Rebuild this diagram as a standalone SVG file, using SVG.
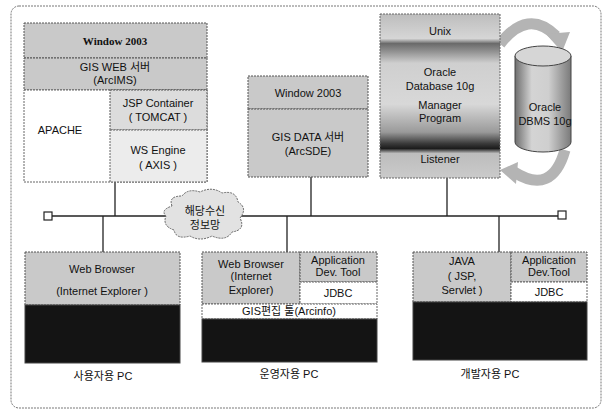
<svg xmlns="http://www.w3.org/2000/svg" width="606" height="418" viewBox="0 0 606 418">
<defs>
<style>
text{font-family:"Liberation Sans","Noto Sans CJK KR",sans-serif;font-size:11px;fill:#111;text-anchor:middle}
.serif{font-family:"Liberation Serif","Noto Sans CJK KR",serif;font-weight:bold}
.g{fill:#c9c9c9;stroke:#555;stroke-width:1;stroke-dasharray:2 1}
.gl{fill:#dcdcdc;stroke:#555;stroke-width:1;stroke-dasharray:2 1}
.w{fill:#ffffff;stroke:#666;stroke-width:1;stroke-dasharray:2 1}
.dk{fill:#141414;stroke:#444;stroke-width:1}
.ln{stroke:#222;stroke-width:1.3;fill:none}
.arr{fill:none;stroke:#b4b4b4;stroke-width:11}
.ah{fill:#b4b4b4}
</style>
<linearGradient id="ora" gradientUnits="userSpaceOnUse" x1="0" y1="14" x2="0" y2="178">
<stop offset="0" stop-color="#bdbdbd"/>
<stop offset="0.15" stop-color="#d6d6d6"/>
<stop offset="0.18" stop-color="#6a6a6a"/>
<stop offset="0.22" stop-color="#8a8a8a"/>
<stop offset="0.3" stop-color="#cfcfcf"/>
<stop offset="0.55" stop-color="#d8d8d8"/>
<stop offset="0.72" stop-color="#9a9a9a"/>
<stop offset="0.79" stop-color="#3a3a3a"/>
<stop offset="0.82" stop-color="#1c1c1c"/>
<stop offset="0.85" stop-color="#bdbdbd"/>
<stop offset="1" stop-color="#cacaca"/>
</linearGradient>
<linearGradient id="cyl" x1="0" y1="0" x2="1" y2="0">
<stop offset="0" stop-color="#6e6e6e"/>
<stop offset="0.3" stop-color="#d4d4d4"/>
<stop offset="0.6" stop-color="#cfcfcf"/>
<stop offset="1" stop-color="#7a7a7a"/>
</linearGradient>
</defs>

<rect x="11" y="6" width="590" height="402" rx="8" fill="#ffffff" stroke="#777" stroke-width="1" stroke-dasharray="2 1"/>

<g id="connectors">
<line class="ln" x1="52" y1="216" x2="558" y2="216"/>
<rect x="44" y="212" width="8" height="8" fill="#fff" stroke="#222" stroke-width="1.2"/>
<rect x="558" y="211" width="8" height="8" fill="#fff" stroke="#222" stroke-width="1.2"/>
<line class="ln" x1="115" y1="182" x2="115" y2="216"/>
<line class="ln" x1="311" y1="177" x2="311" y2="216"/>
<line class="ln" x1="447" y1="178" x2="447" y2="216"/>
<line class="ln" x1="103" y1="216" x2="103" y2="252"/>
<line class="ln" x1="287" y1="216" x2="287" y2="252"/>
<line class="ln" x1="499" y1="216" x2="499" y2="252"/>
<path class="arr" d="M500,44 Q528,8 556,36"/>
<polygon class="ah" points="546,34 570,32 562,52"/>
<path class="arr" d="M565,150 Q552,196 514,172"/>
<polygon class="ah" points="518,162 500,170 516,184"/>
</g>

<g id="cloud">
<path d="M172,206 Q168,196 182,196 Q188,188 200,192 Q212,186 222,193 Q236,190 238,202 Q248,208 240,218 Q246,230 232,232 Q226,242 212,236 Q200,242 190,236 Q176,240 174,230 Q162,226 166,216 Q160,210 172,206 Z" fill="#e2e2e2" stroke="#666" stroke-width="1" stroke-dasharray="2 1"/>
<text x="205" y="215" font-size="10">해당수신</text>
<text x="205" y="229" font-size="10">정보망</text>
</g>

<g id="web-server">
<rect class="g" x="24" y="23" width="183" height="35"/>
<text class="serif" x="115" y="45">Window 2003</text>
<rect class="g" x="24" y="58" width="183" height="32"/>
<text x="115" y="71">GIS WEB 서버</text>
<text x="115" y="84">(ArcIMS)</text>
<rect class="w" x="24" y="90" width="183" height="92"/>
<rect class="gl" x="110" y="90" width="97" height="40"/>
<rect fill="#ececec" stroke="#666" stroke-dasharray="2 1" x="110" y="130" width="97" height="52"/>
<text x="60" y="134">APACHE</text>
<text x="158" y="107">JSP Container</text>
<text x="158" y="121">( TOMCAT )</text>
<text x="158" y="154" font-size="12">WS Engine</text>
<text x="158" y="169" font-size="12">( AXIS )</text>
</g>

<g id="data-server">
<rect class="g" x="248" y="76" width="120" height="33"/>
<text x="308" y="97">Window 2003</text>
<rect class="g" x="248" y="109" width="120" height="68"/>
<text x="308" y="141">GIS DATA 서버</text>
<text x="308" y="155">(ArcSDE)</text>
</g>

<g id="oracle-server">
<rect x="380" y="14" width="120" height="164" fill="url(#ora)" stroke="#666" stroke-width="1" stroke-dasharray="2 1"/>
<text x="440" y="35">Unix</text>
<text x="440" y="76">Oracle</text>
<text x="440" y="90">Database 10g</text>
<text x="440" y="109">Manager</text>
<text x="440" y="122">Program</text>
<text x="440" y="163">Listener</text>
</g>

<g id="oracle-dbms">
<path d="M515,56 L515,142 A28,10 0 0 0 571,142 L571,56 Z" fill="url(#cyl)" stroke="#444" stroke-width="1"/>
<ellipse cx="543" cy="56" rx="28" ry="10" fill="#d6d6d6" stroke="#444" stroke-width="1"/>
<text x="545" y="111" font-size="12">Oracle</text>
<text x="545" y="125" font-size="12">DBMS 10g</text>
</g>

<g id="user-pc">
<rect class="g" x="25" y="252" width="155" height="53"/>
<text x="102" y="273">Web Browser</text>
<text x="102" y="295">(Internet Explorer )</text>
<rect class="dk" x="25" y="305" width="155" height="58"/>
<text x="103" y="380">사용자용 PC</text>
</g>

<g id="ops-pc">
<rect class="g" x="202" y="252" width="98" height="52"/>
<text x="251" y="268">Web Browser</text>
<text x="251" y="280">(Internet</text>
<text x="251" y="294">Explorer)</text>
<rect class="g" x="300" y="252" width="77" height="30"/>
<text x="338" y="264">Application</text>
<text x="338" y="276">Dev. Tool</text>
<rect class="w" x="300" y="282" width="77" height="22"/>
<text x="338" y="297">JDBC</text>
<rect class="w" x="202" y="304" width="175" height="15"/>
<text x="289" y="315">GIS편집 툴(Arcinfo)</text>
<rect class="dk" x="202" y="319" width="175" height="43"/>
<text x="289" y="378">운영자용 PC</text>
</g>

<g id="dev-pc">
<rect class="g" x="413" y="252" width="98" height="50"/>
<text x="462" y="265">JAVA</text>
<text x="462" y="280">( JSP,</text>
<text x="462" y="294">Servlet )</text>
<rect class="g" x="511" y="252" width="76" height="30"/>
<text x="549" y="264">Application</text>
<text x="549" y="276">Dev.Tool</text>
<rect class="w" x="511" y="282" width="76" height="20"/>
<text x="549" y="296">JDBC</text>
<rect class="dk" x="413" y="302" width="174" height="58"/>
<text x="490" y="378">개발자용 PC</text>
</g>
</svg>
